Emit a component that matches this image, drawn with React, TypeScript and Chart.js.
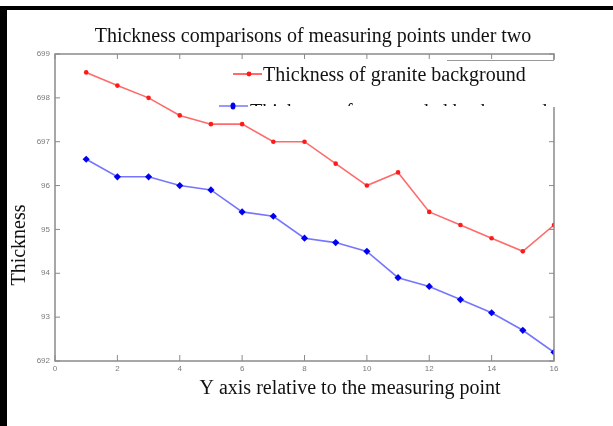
import React, { useEffect, useRef } from "react";
import { Chart, registerables } from "chart.js";

Chart.register(...registerables);

const measuringPoints = [1, 2, 3, 4, 5, 6, 7, 8, 9, 10, 11, 12, 13, 14, 15, 16];
const graniteThickness = [698.58, 698.28, 698.0, 697.6, 697.4, 697.4, 697.0, 697.0, 696.5, 696.0, 696.3, 695.4, 695.1, 694.8, 694.5, 695.1];
const surroundThickness = [696.6, 696.2, 696.2, 696.0, 695.9, 695.4, 695.3, 694.8, 694.7, 694.5, 693.9, 693.7, 693.4, 693.1, 692.7, 692.2];
const yTickValues = [692, 693, 694, 695, 696, 697, 698, 699];
const yTickLabels = ["692", "93", "94", "95", "96", "697", "698", "699"];
const xTickValues = [0, 2, 4, 6, 8, 10, 12, 14, 16];
const xTickLabels = ["0", "2", "4", "6", "8", "10", "12", "14", "16"];
const titleText = "Thickness comparisons of measuring points under two";
const xAxisTitle = "Y axis relative to the measuring point";
const yAxisTitle = "Thickness";
const legendLabels = ["Thickness of granite background", "Thickness of surrounded background"];

const SERIF = "'Liberation Serif', 'Times New Roman', serif";
const TICKFONT = "'Liberation Sans Narrow', 'Arial Narrow', 'Liberation Sans', sans-serif";

const RED_LINE = "rgba(255,90,90,0.9)";
const RED_PT = "#ff1a1a";
const BLUE_LINE = "rgba(110,110,255,0.95)";
const BLUE_PT = "#0000ee";

const decorPlugin = {
  id: "decor",
  afterDraw(chart: any) {
    const ctx = chart.ctx as CanvasRenderingContext2D;
    const a = chart.chartArea;
    const xs = chart.scales.x;
    const ys = chart.scales.y;
    ctx.save();
    // axes box
    ctx.strokeStyle = "#8a8a8a";
    ctx.lineWidth = 1.5;
    ctx.strokeRect(a.left, a.top, a.right - a.left, a.bottom - a.top);
    ctx.lineWidth = 1;
    // y tick marks inside (left and right)
    yTickValues.forEach((v) => {
      const py = ys.getPixelForValue(v);
      ctx.beginPath();
      ctx.moveTo(a.left, py);
      ctx.lineTo(a.left + 5, py);
      ctx.moveTo(a.right, py);
      ctx.lineTo(a.right - 5, py);
      ctx.stroke();
    });
    // x tick marks inside (bottom and top)
    xTickValues.forEach((v) => {
      const px = xs.getPixelForValue(v);
      ctx.beginPath();
      ctx.moveTo(px, a.bottom);
      ctx.lineTo(px, a.bottom - 6);
      ctx.moveTo(px, a.top);
      ctx.lineTo(px, a.top + 5);
      ctx.stroke();
    });

    // title
    ctx.fillStyle = "#111";
    ctx.font = `20px ${SERIF}`;
    ctx.textAlign = "center";
    ctx.textBaseline = "middle";
    ctx.fillText(titleText, 313, 37);
    // x axis title
    ctx.fillText(xAxisTitle, 350, 389);
    // y axis title
    ctx.save();
    ctx.translate(20, 245);
    ctx.rotate(-Math.PI / 2);
    ctx.fillText(yAxisTitle, 0, 0);
    ctx.restore();

    // legend box (white, covering part of the plot frame)
    ctx.fillStyle = "#fff";
    ctx.fillRect(226, 60, 331, 47);
    ctx.strokeStyle = "#999";
    ctx.lineWidth = 1;
    ctx.beginPath();
    ctx.moveTo(447, 60.5);
    ctx.lineTo(554, 60.5);
    ctx.stroke();

    // entry 1
    ctx.strokeStyle = RED_LINE;
    ctx.lineWidth = 2;
    ctx.beginPath();
    ctx.moveTo(233, 74);
    ctx.lineTo(262, 74);
    ctx.stroke();
    ctx.fillStyle = RED_PT;
    ctx.beginPath();
    ctx.arc(249, 74, 2.4, 0, Math.PI * 2);
    ctx.fill();
    ctx.fillStyle = "#111";
    ctx.font = `20px ${SERIF}`;
    ctx.textAlign = "left";
    ctx.textBaseline = "alphabetic";
    ctx.fillText(legendLabels[0], 263, 81);

    // entry 2 (partly hidden)
    ctx.strokeStyle = BLUE_LINE;
    ctx.lineWidth = 1.5;
    ctx.beginPath();
    ctx.moveTo(219, 106);
    ctx.lineTo(248, 106);
    ctx.stroke();
    ctx.fillStyle = BLUE_PT;
    ctx.beginPath();
    ctx.ellipse(233, 106, 2.5, 3.5, 0, 0, Math.PI * 2);
    ctx.fill();
    ctx.save();
    ctx.beginPath();
    ctx.rect(240, 95, 320, 11);
    ctx.clip();
    ctx.fillStyle = "#111";
    ctx.fillText(legendLabels[1], 250, 118);
    ctx.restore();

    // scan frame
    ctx.fillStyle = "#000";
    ctx.fillRect(0, 6, 613, 4);
    ctx.fillRect(0, 6, 7, 420);
    ctx.restore();
  },
};

export default function App() {
  const ref = useRef<HTMLCanvasElement | null>(null);
  useEffect(() => {
    if (!ref.current) return;
    const chart = new Chart(ref.current, {
      type: "line",
      data: {
        datasets: [
          {
            label: legendLabels[0],
            data: measuringPoints.map((x, i) => ({ x, y: graniteThickness[i] })),
            borderColor: RED_LINE,
            backgroundColor: RED_PT,
            borderWidth: 1.6,
            pointStyle: "circle",
            pointRadius: 2.3,
            pointBorderWidth: 0,
            pointBackgroundColor: RED_PT,
            tension: 0,
          },
          {
            label: legendLabels[1],
            data: measuringPoints.map((x, i) => ({ x, y: surroundThickness[i] })),
            borderColor: BLUE_LINE,
            backgroundColor: BLUE_PT,
            borderWidth: 1.6,
            pointStyle: "rectRot",
            pointRadius: 3.6,
            pointBorderWidth: 0,
            pointBackgroundColor: BLUE_PT,
            tension: 0,
          },
        ],
      },
      options: {
        animation: false,
        responsive: false,
        maintainAspectRatio: false,
        layout: { padding: { left: 0, right: 59, top: 54, bottom: 0 } },
        plugins: { legend: { display: false }, title: { display: false }, tooltip: { enabled: false } },
        scales: {
          x: {
            type: "linear",
            min: 0,
            max: 16,
            grid: { display: false, drawTicks: false },
            border: { display: false },
            afterFit: (s: any) => {
              s.height = 65;
            },
            afterBuildTicks: (s: any) => {
              s.ticks = xTickValues.map((v) => ({ value: v }));
            },
            ticks: {
              padding: 3,
              color: "#7a7a7a",
              font: { size: 8, family: TICKFONT },
              maxRotation: 0,
              autoSkip: false,
              callback: (v: any) => {
                const i = xTickValues.indexOf(Number(v));
                return i >= 0 ? xTickLabels[i] : "";
              },
            },
          },
          y: {
            type: "linear",
            min: 692,
            max: 699,
            grid: { display: false, drawTicks: false },
            border: { display: false },
            afterFit: (s: any) => {
              s.width = 55;
            },
            afterBuildTicks: (s: any) => {
              s.ticks = yTickValues.map((v) => ({ value: v }));
            },
            ticks: {
              padding: 5,
              color: "#7a7a7a",
              font: { size: 8, family: TICKFONT },
              autoSkip: false,
              callback: (v: any) => {
                const i = yTickValues.indexOf(Number(v));
                return i >= 0 ? yTickLabels[i] : "";
              },
            },
          },
        },
      },
      plugins: [decorPlugin],
    });
    return () => chart.destroy();
  }, []);
  return (
    <div style={{ position: "fixed", left: 0, top: 0, width: 613, height: 426, background: "#fff" }}>
      <canvas ref={ref} width={613} height={426} style={{ width: 613, height: 426, display: "block" }} />
    </div>
  );
}
